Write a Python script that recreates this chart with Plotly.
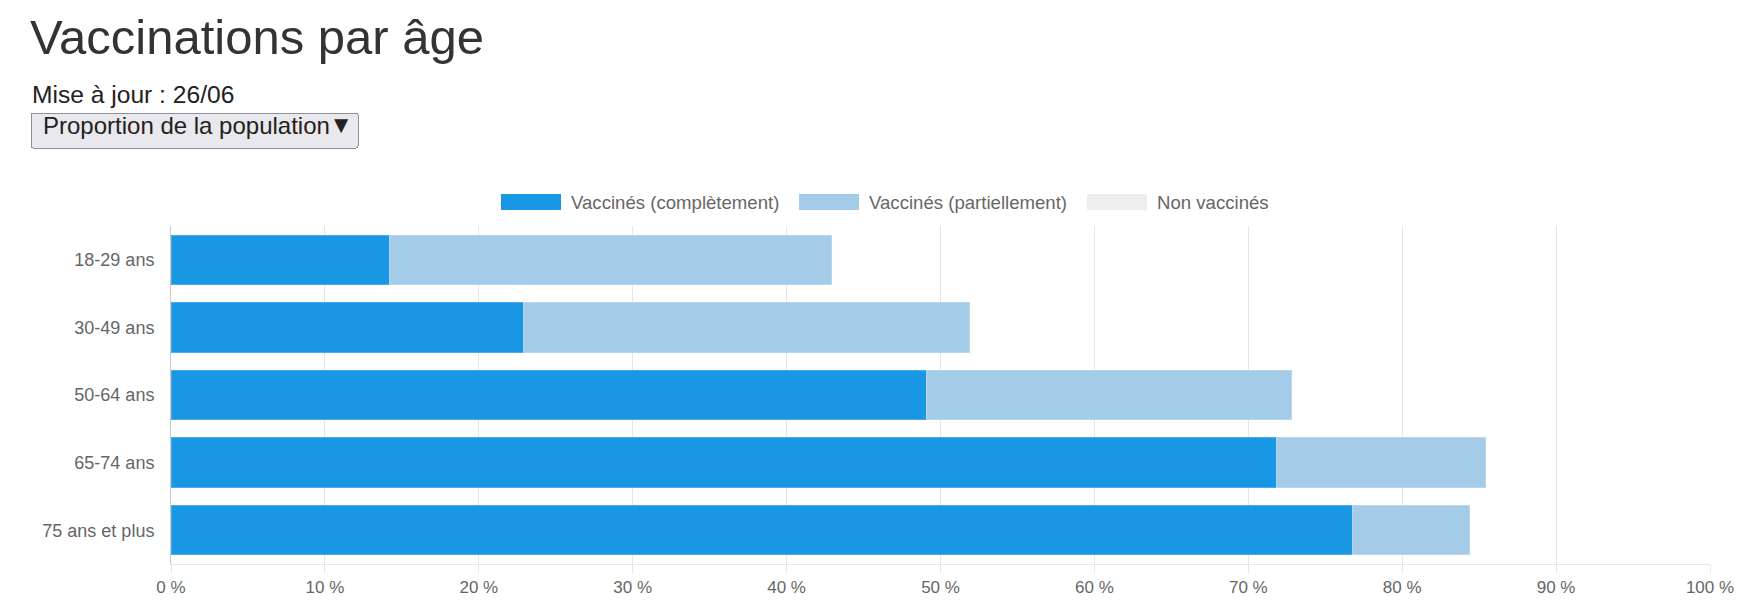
import plotly.graph_objects as go

# Data (percent of population)
age_groups = ['18-29 ans', '30-49 ans', '50-64 ans', '65-74 ans', '75 ans et plus']
vacc_complete = [14.2, 22.9, 49.1, 71.8, 76.8]
vacc_partial = [28.7, 29.0, 23.7, 13.6, 7.6]
series_names = ['Vaccinés (complètement)', 'Vaccinés (partiellement)', 'Non vaccinés']
series_colors = ['#1996e4', '#a4cbe7', '#eeeeee']
edge_colors = ['#4aaaea', '#b8d7ed', '#e4e4e4']
x_tickvals = list(range(0, 101, 10))
x_ticktext = [f'{v} %' for v in x_tickvals]

# the page body has the browser's default 8px margin
OFF = 8
W, H = 1755 - 2 * OFF, 609 - 2 * OFF
# plot area in window pixels
L, R, T, B = 171, 1710, 226, 564


def fx(px: float) -> float:
    return (px - L) / (R - L)


def fy(py: float) -> float:
    return (B - py) / (B - T)


FONT = 'Liberation Sans, Arial, sans-serif'

fig = go.Figure()
for vals, name, col, edge in zip([vacc_complete, vacc_partial], series_names,
                                 series_colors, edge_colors):
    fig.add_trace(go.Bar(
        y=age_groups, x=vals, name=name, orientation='h',
        marker=dict(color=col, line=dict(color=edge, width=1)),
        hovertemplate='%{y} : %{x:.1f} %<extra>' + name + '</extra>',
    ))

# legend drawn by hand to get the wide Chart.js-style swatches
swatch_x = [501, 799, 1087]
shapes = []
annotations = []
for sx, name, col in zip(swatch_x, series_names, series_colors):
    shapes.append(dict(
        type='rect', xref='paper', yref='paper',
        x0=fx(sx), x1=fx(sx + 60), y0=fy(210), y1=fy(194),
        fillcolor=col, line=dict(width=0),
    ))
    annotations.append(dict(
        xref='paper', yref='paper', x=fx(sx + 68), y=fy(202),
        xanchor='left', yanchor='middle', text=name, showarrow=False,
        font=dict(family=FONT, size=18.6, color='#666666'),
    ))

annotations.append(dict(
    xref='paper', yref='paper', x=fx(30), y=fy(94.5),
    xanchor='left', yanchor='middle', text='Mise à jour : 26/06',
    showarrow=False, font=dict(family=FONT, size=24.6, color='#222222'),
))

fig.update_layout(
    width=W, height=H,
    autosize=False,
    margin=dict(l=L - OFF, r=W + OFF - R, t=T - OFF, b=H + OFF - B, pad=0),
    paper_bgcolor='white', plot_bgcolor='white',
    barmode='stack', bargap=0.27,
    showlegend=False,
    font=dict(family=FONT, size=18, color='#666666'),
    title=dict(
        text='Vaccinations par âge',
        font=dict(family=FONT, size=49, color='#333333'),
        xref='container', yref='container',
        x=(30 - OFF) / W, xanchor='left',
        y=1 - (37 - OFF) / H, yanchor='middle',
        automargin=False,
    ),
    xaxis=dict(
        range=[0, 100], tickvals=x_tickvals, ticktext=x_ticktext,
        showgrid=True, gridcolor='#e6e6e6', gridwidth=1,
        zeroline=False, showline=True, linecolor='#e6e6e6', linewidth=1,
        ticks='outside', ticklen=8, tickcolor='#e6e6e6',
        tickfont=dict(size=17, color='#666666'),
        automargin=False, fixedrange=True,
    ),
    yaxis=dict(
        categoryorder='array', categoryarray=age_groups, autorange='reversed',
        showgrid=False, zeroline=False,
        showline=True, linecolor='#c8c8c8', linewidth=1,
        ticks='outside', ticklen=12, tickcolor='rgba(0,0,0,0)',
        tickfont=dict(size=18, color='#666666'),
        automargin=False, fixedrange=True,
    ),
    shapes=shapes,
    annotations=annotations,
    updatemenus=[dict(
        type='dropdown', direction='down',
        x=fx(30), y=fy(111.5), xanchor='left', yanchor='top',
        bgcolor='#e9e9ed', bordercolor='#8f8f9d', borderwidth=1,
        font=dict(family=FONT, size=24, color='#222222'),
        pad=dict(l=0, r=0, t=0, b=0),
        showactive=False,
        buttons=[dict(label='Proportion de la population', method='skip', args=[None])],
    )],
)

fig.write_html('out.html')
